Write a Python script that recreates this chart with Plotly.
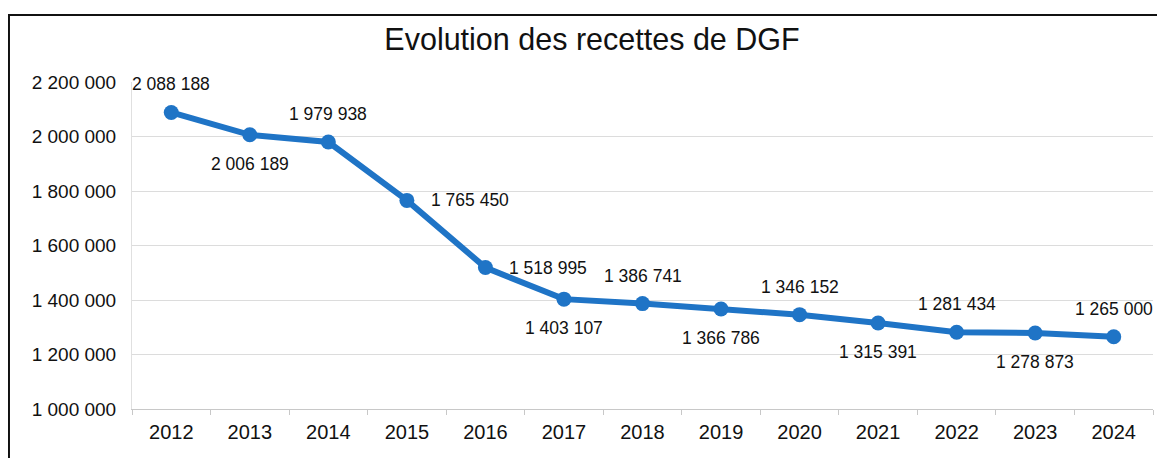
import plotly.graph_objects as go

years = ["2012", "2013", "2014", "2015", "2016", "2017", "2018", "2019", "2020", "2021", "2022", "2023", "2024"]
recettes = [2088188, 2006189, 1979938, 1765450, 1518995, 1403107, 1386741, 1366786, 1346152, 1315391, 1281434, 1278873, 1265000]
label_pos = ["top", "bottom", "top", "right", "right", "bottom", "top", "bottom", "top", "bottom", "top", "bottom", "top"]
y_ticks = [1000000, 1200000, 1400000, 1600000, 1800000, 2000000, 2200000]

FONT = "Liberation Sans, Arial, sans-serif"
BLUE = "#1f74c6"


def fmt(v):
    return f"{v:,}".replace(",", " ")


fig = go.Figure()
fig.add_trace(go.Scatter(
    x=years, y=recettes, mode="lines+markers",
    line=dict(color=BLUE, width=6),
    marker=dict(color=BLUE, size=15),
    hoverinfo="skip", showlegend=False,
))

for i, (v, p) in enumerate(zip(recettes, label_pos)):
    xs, ys = 0, 0
    if p == "top":
        ys = 28
    elif p == "bottom":
        ys = -29
    else:
        xs = 63
    fig.add_annotation(x=i, y=v, text=fmt(v), showarrow=False,
                       xshift=xs, yshift=ys,
                       font=dict(family=FONT, size=17.5, color="#111111"))

# outer chart frame (bottom edge falls outside the picture)
fig.add_shape(type="rect", xref="paper", yref="paper",
              x0=-0.1205, x1=1.0078, y0=-0.25, y1=1.2049,
              line=dict(color="#111111", width=2), layer="above")

fig.update_layout(
    width=1157, height=450,
    margin=dict(l=124, r=12, t=74, b=49, autoexpand=False),
    paper_bgcolor="white", plot_bgcolor="white",
    separators=", ",
    font=dict(family=FONT, size=17, color="#111111"),
    title=dict(text="Evolution des recettes de DGF", x=584 / 1157, xanchor="center",
               y=1 - 31 / 450, yanchor="middle",
               font=dict(family=FONT, size=30.5, color="#111111")),
    xaxis=dict(type="category", range=[-0.5, len(years) - 0.5], showgrid=False,
               showline=True, linecolor="#c8c8c8", linewidth=1,
               ticks="outside", tickson="boundaries", ticklen=5, tickcolor="#c8c8c8",
               tickangle=0, ticklabelstandoff=5,
               tickfont=dict(family=FONT, size=20, color="#111111"), fixedrange=True),
    yaxis=dict(range=[1000000, 2200000], tickvals=y_ticks, ticktext=[fmt(v) for v in y_ticks],
               showgrid=True, gridcolor="#dcdcdc", gridwidth=1, zeroline=False,
               showline=True, linecolor="#e0e0e0", ticks="", ticklabelstandoff=11,
               tickfont=dict(family=FONT, size=19, color="#111111"), fixedrange=True),
)

fig.write_html("out.html")
